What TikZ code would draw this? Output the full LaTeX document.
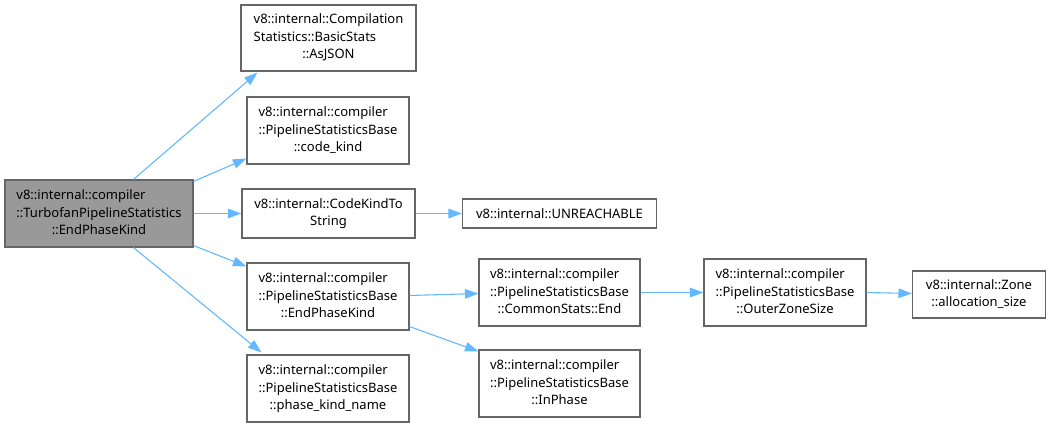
\documentclass[tikz,border=0pt]{standalone}
\usepackage{fontspec}
\setmainfont{Noto Sans}
\usetikzlibrary{calc,arrows.meta}
\definecolor{edgec}{HTML}{63B8FF}
\definecolor{boxc}{HTML}{666666}
\definecolor{mainfill}{HTML}{999999}
\newcommand{\lbl}[2]{\begin{tabular}{@{}l@{}}#1\\\multicolumn{1}{@{}c@{}}{#2}\end{tabular}}
\newcommand{\lblthree}[3]{\begin{tabular}{@{}l@{}}#1\\#2\\\multicolumn{1}{@{}c@{}}{#3}\end{tabular}}
\tikzset{
  fn/.style={draw=boxc, line width=1.1pt, fill=white, inner sep=0pt, font=\fontsize{13}{17.5}\selectfont},
  cur/.style={fn, fill=mainfill},
  call/.style={draw=edgec, line width=1.1pt, -{Triangle[length=13.5pt,width=9.5pt]}},
}
\begin{document}
\begin{tikzpicture}[x=1pt,y=-1pt]
\useasboundingbox (0,0) rectangle (1051,428);
\node[cur, minimum width=188, minimum height=67] (main) at (99,213.5) {\lblthree{v8::internal::compiler}{::TurbofanPipelineStatistics}{::EndPhaseKind}};
\node[fn, minimum width=175, minimum height=66] (asjson) at (328.5,38) {\lblthree{v8::internal::Compilation}{Statistics::BasicStats}{::AsJSON}};
\node[fn, minimum width=162, minimum height=67] (codekind) at (328,130.5) {\lblthree{v8::internal::compiler}{::PipelineStatisticsBase}{::code\_kind}};
\node[fn, minimum width=173, minimum height=49] (ckts) at (328.5,213.5) {\lbl{v8::internal::CodeKindTo}{String}};
\node[fn, minimum width=194, minimum height=29] (unreach) at (559.5,213.5) {v8::internal::UNREACHABLE};
\node[fn, minimum width=162, minimum height=67] (epk) at (328,296.5) {\lblthree{v8::internal::compiler}{::PipelineStatisticsBase}{::EndPhaseKind}};
\node[fn, minimum width=162, minimum height=67] (pkn) at (328,388.5) {\lblthree{v8::internal::compiler}{::PipelineStatisticsBase}{::phase\_kind\_name}};
\node[fn, minimum width=161, minimum height=67] (cse) at (559.5,292.5) {\lblthree{v8::internal::compiler}{::PipelineStatisticsBase}{::CommonStats::End}};
\node[fn, minimum width=161, minimum height=67] (inphase) at (559.5,383.5) {\lblthree{v8::internal::compiler}{::PipelineStatisticsBase}{::InPhase}};
\node[fn, minimum width=162, minimum height=67] (outer) at (785,292.5) {\lblthree{v8::internal::compiler}{::PipelineStatisticsBase}{::OuterZoneSize}};
\node[fn, minimum width=133, minimum height=47] (zone) at (979,294.5) {\lbl{v8::internal::Zone}{::allocation\_size}};
\draw[call] ($(main.north west)+(129,0)$) -- ($(asjson.south west)+(17,1)$);
\draw[call] ($(main.north east)+(0,2)$) -- ($(codekind.south west)+(0,-6)$);
\draw[call] (main.east) -- (ckts.west);
\draw[call] ($(main.south east)+(0,-2)$) -- ($(epk.north west)+(0,4)$);
\draw[call] ($(main.south west)+(129,0)$) -- ($(pkn.north west)+(15,-2)$);
\draw[call] (ckts.east) -- (unreach.west);
\draw[call] ($(epk.east)+(0,-1)$) -- ($(cse.west)+(0,1)$);
\draw[call] ($(epk.south east)+(0,-4)$) -- ($(inphase.north west)+(0,2)$);
\draw[call] (cse.east) -- (outer.west);
\draw[call] (outer.east) -- ($(zone.west)+(0,-1)$);
\end{tikzpicture}
\end{document}
